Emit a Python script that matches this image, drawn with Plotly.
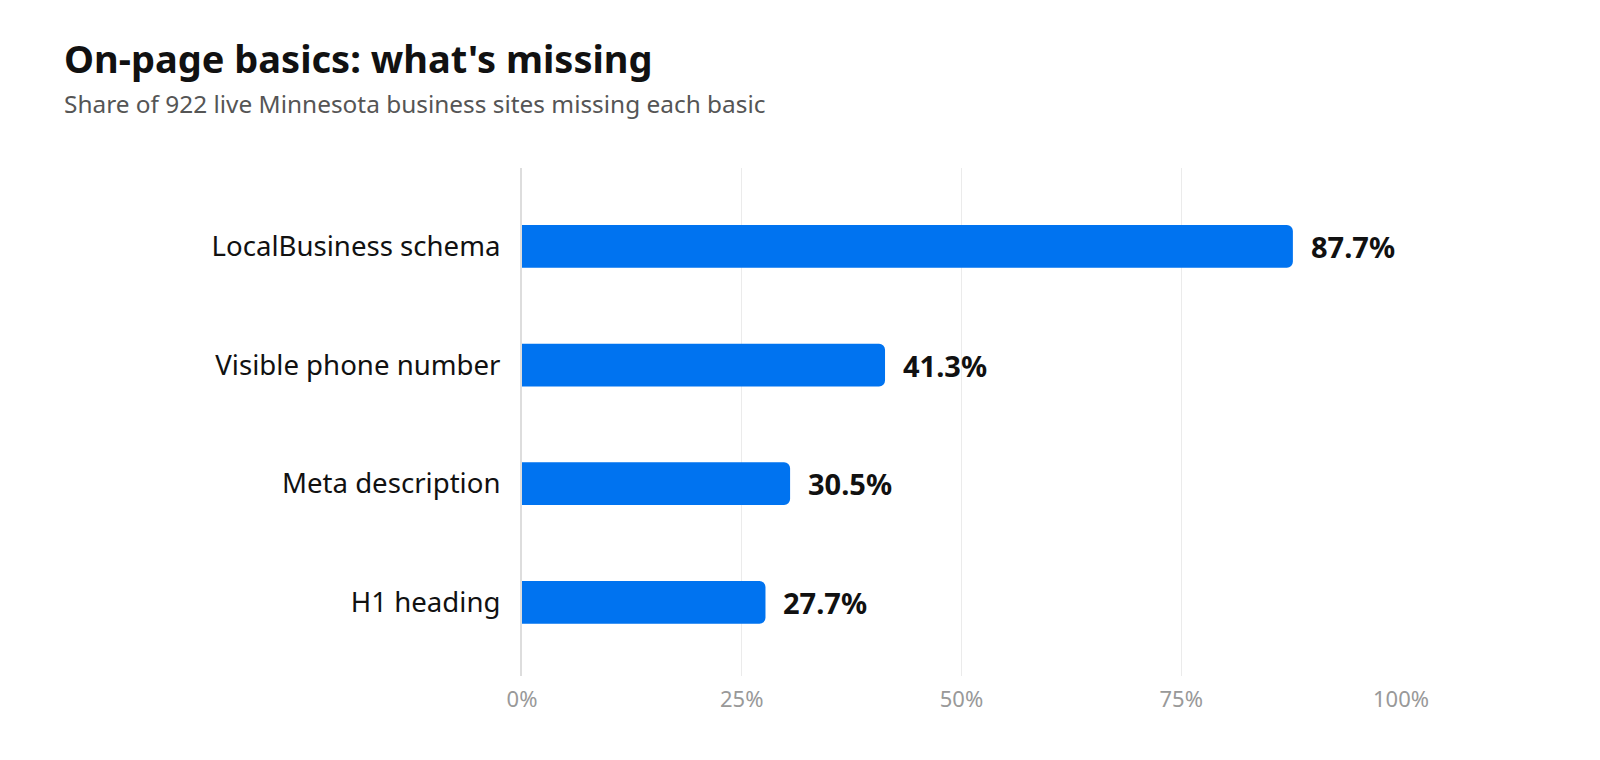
import plotly.graph_objects as go

categories = ["LocalBusiness schema", "Visible phone number", "Meta description", "H1 heading"]
missing_pct = [87.7, 41.3, 30.5, 27.7]
tick_vals = [0, 25, 50, 75, 100]
tick_text = ["0%", "25%", "50%", "75%", "100%"]

FONT = "Noto Sans"

fig = go.Figure()
fig.add_bar(
    x=missing_pct,
    y=categories,
    orientation="h",
    width=0.36,
    marker=dict(color="#0073F0", line=dict(width=0)),
    hoverinfo="skip",
)

# value labels just past the bar ends
for cat, val in zip(categories, missing_pct):
    fig.add_annotation(
        x=val, y=cat, text="<b>%.1f%%</b>" % val, showarrow=False,
        xanchor="left", yanchor="middle", xshift=16,
        font=dict(family=FONT, size=29, color="#111111"),
    )

fig.add_annotation(
    text="<b>On-page basics: what's missing</b>",
    xref="paper", yref="paper", x=-0.5236, y=1.2174,
    xanchor="left", yanchor="middle", showarrow=False,
    font=dict(family=FONT, size=38, color="#111111"),
)
fig.add_annotation(
    text="Share of 922 live Minnesota business sites missing each basic",
    xref="paper", yref="paper", x=-0.5236, y=1.1272,
    xanchor="left", yanchor="middle", showarrow=False,
    font=dict(family=FONT, size=24.4, color="#555555"),
)

fig.update_layout(
    width=1600, height=760,
    margin=dict(l=514, r=207, t=160, b=92),
    paper_bgcolor="white", plot_bgcolor="white",
    barcornerradius=6,
    showlegend=False,
    font=dict(family=FONT),
)
fig.update_xaxes(
    range=[0, 100], tickvals=tick_vals, ticktext=tick_text,
    showgrid=True, gridcolor="#ebebeb", gridwidth=1,
    zeroline=False, showline=False,
    tickfont=dict(family=FONT, size=22, color="#999999"),
    ticklabelstandoff=8,
)
fig.update_yaxes(
    autorange=False, range=[3.62, -0.66],
    showgrid=False, zeroline=False,
    showline=True, linecolor="#dddddd", linewidth=2,
    tickfont=dict(family=FONT, size=27.6, color="#111111"),
    ticklabelstandoff=14,
)

fig.write_html("out.html")
